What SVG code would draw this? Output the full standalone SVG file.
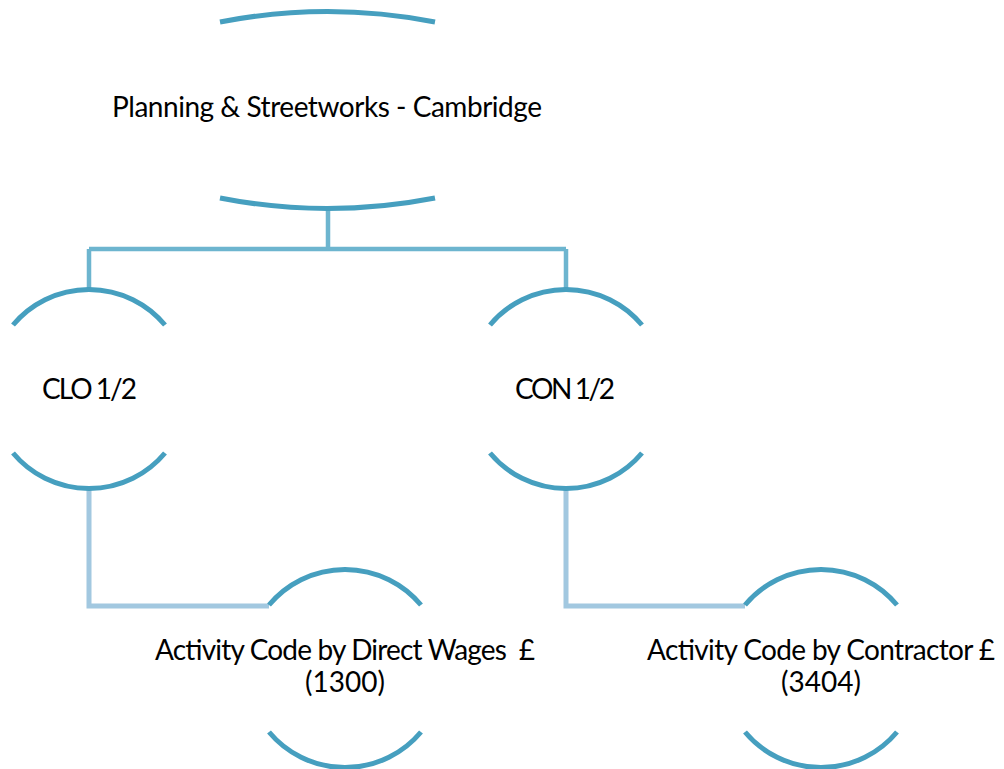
<svg xmlns="http://www.w3.org/2000/svg" width="1004" height="769" viewBox="0 0 1004 769">
<style>
.arc{fill:none;stroke:#469FBF;stroke-width:5}
.c1{fill:none;stroke:#6DB5CF;stroke-width:4.5}
.c2{fill:none;stroke:#A2C8E0;stroke-width:5}
.t{font-family:Lato,"Liberation Sans",sans-serif;font-size:28px;fill:#000;white-space:pre}
</style>
<rect width="1004" height="769" fill="#fff"/>
<g id="connectors">
<path class="c1" d="M328,208 V249 M89,249 H566 M89,249 V292 M566,249 V292"/>
<path class="c2" d="M89,488 V606 H269"/>
<path class="c2" d="M566,488 V606 H745"/>
</g>
<g id="node-root">
<path class="arc" d="M220,22 A560,560 0 0 1 435,22"/>
<path class="arc" d="M220,198 A560,560 0 0 0 435,198"/>
<text class="t" x="112" y="117" textLength="430">Planning &amp; Streetworks - Cambridge</text>
</g>
<g id="node-clo">
<path class="arc" d="M13,325 A99,99 0 0 1 165,325"/>
<path class="arc" d="M13,453 A99,99 0 0 0 165,453"/>
<text class="t" x="42" y="399" textLength="95">CLO 1/2</text>
</g>
<g id="node-con">
<path class="arc" d="M490,325 A99,99 0 0 1 642,325"/>
<path class="arc" d="M490,453 A99,99 0 0 0 642,453"/>
<text class="t" x="515" y="399" textLength="100">CON 1/2</text>
</g>
<g id="node-direct">
<path class="arc" d="M269,605 A99,99 0 0 1 421,605"/>
<path class="arc" d="M269,732 A99,99 0 0 0 421,732"/>
<text class="t" x="155" y="660" textLength="380" xml:space="preserve">Activity Code by Direct Wages  £</text>
<text class="t" x="345" y="692" text-anchor="middle">(1300)</text>
</g>
<g id="node-contractor">
<path class="arc" d="M745,605 A99,99 0 0 1 897,605"/>
<path class="arc" d="M745,732 A99,99 0 0 0 897,732"/>
<text class="t" x="647" y="660" textLength="348">Activity Code by Contractor £</text>
<text class="t" x="821" y="692" text-anchor="middle">(3404)</text>
</g>
</svg>
